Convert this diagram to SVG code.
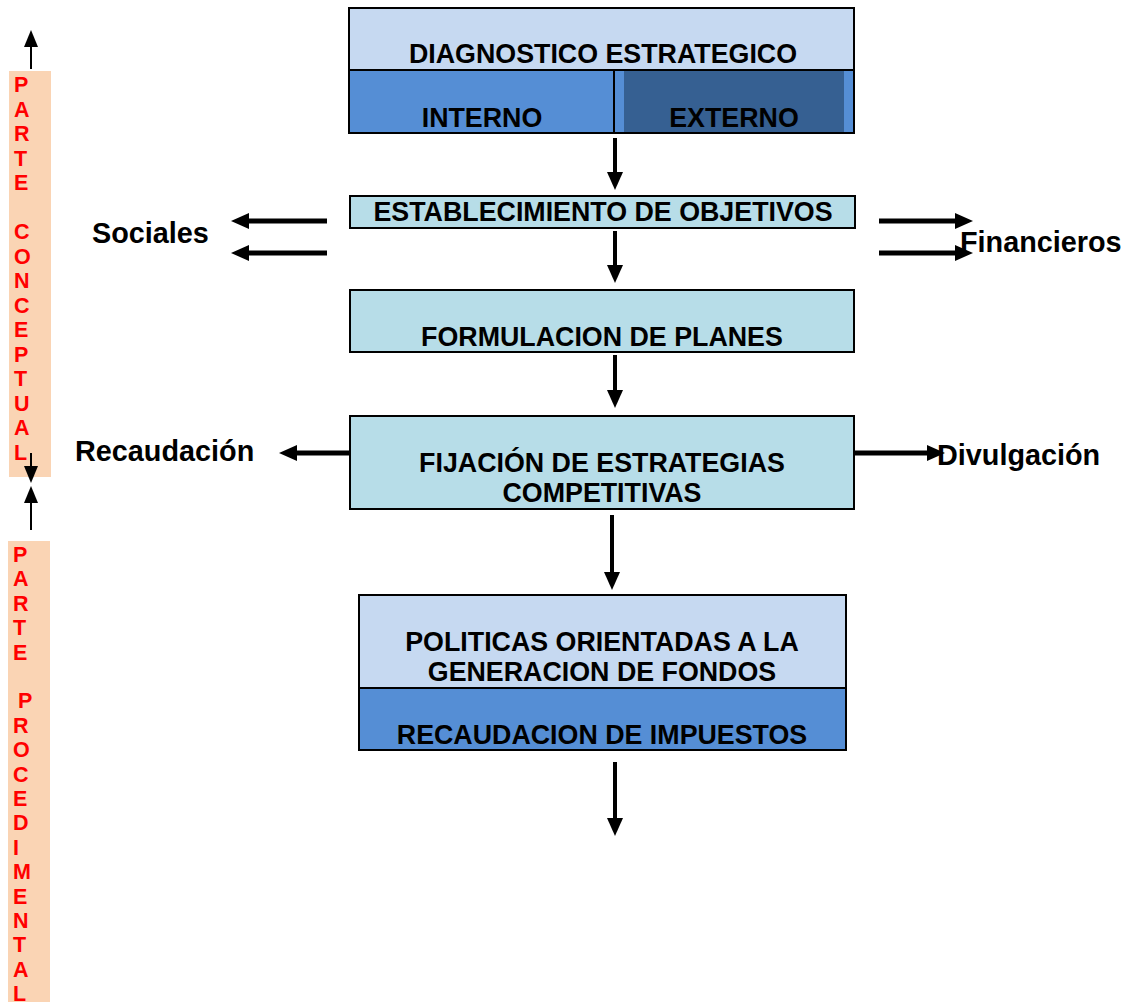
<svg xmlns="http://www.w3.org/2000/svg" width="1136" height="1002" viewBox="0 0 1136 1002">
<style>
.t{font-family:"Liberation Sans",Arial,sans-serif;font-weight:bold;fill:#000}
.m{font-size:26.8px;text-anchor:middle}
.s{font-size:28.8px}
.v{font-family:"Liberation Sans",Arial,sans-serif;font-weight:bold;font-size:21.5px;fill:#FF0000}
.bx{stroke:#000;stroke-width:2}
.a4{stroke:#000;stroke-width:4;fill:none}
.a5{stroke:#000;stroke-width:5;fill:none}
.a2{stroke:#000;stroke-width:2;fill:none}
</style>
<defs>
<marker id="ah" viewBox="0 0 18 16" refX="0" refY="8" markerWidth="18" markerHeight="16" markerUnits="userSpaceOnUse" orient="auto"><path d="M0,0L18,8L0,16z" fill="#000"/></marker>
<marker id="as" viewBox="0 0 17 14" refX="0" refY="7" markerWidth="17" markerHeight="14" markerUnits="userSpaceOnUse" orient="auto"><path d="M0,0L17,7L0,14z" fill="#000"/></marker>
</defs>
<rect width="1136" height="1002" fill="#fff"/>

<g id="col-conceptual">
<rect x="9" y="71" width="42" height="406" fill="#FAD4B4"/>
<text class="v"><tspan x="14" y="92">P</tspan><tspan x="14" y="116.5">A</tspan><tspan x="14" y="141">R</tspan><tspan x="14" y="165.5">T</tspan><tspan x="14" y="190">E</tspan><tspan x="14" y="239">C</tspan><tspan x="14" y="263.5">O</tspan><tspan x="14" y="288">N</tspan><tspan x="14" y="312.5">C</tspan><tspan x="14" y="337">E</tspan><tspan x="14" y="361.5">P</tspan><tspan x="14" y="386">T</tspan><tspan x="14" y="410.5">U</tspan><tspan x="14" y="435">A</tspan><tspan x="14" y="459.5">L</tspan></text>
</g>

<g id="col-procedimental">
<rect x="8" y="541" width="42" height="461" fill="#FAD4B4"/>
<text class="v"><tspan x="13" y="562">P</tspan><tspan x="13" y="586.4">A</tspan><tspan x="13" y="610.8">R</tspan><tspan x="13" y="635.2">T</tspan><tspan x="13" y="659.6">E</tspan><tspan x="18" y="708.4">P</tspan><tspan x="13" y="732.8">R</tspan><tspan x="13" y="757.2">O</tspan><tspan x="13" y="781.6">C</tspan><tspan x="13" y="806">E</tspan><tspan x="13" y="830.4">D</tspan><tspan x="13" y="854.8">I</tspan><tspan x="13" y="879.2">M</tspan><tspan x="13" y="903.6">E</tspan><tspan x="13" y="928">N</tspan><tspan x="13" y="952.4">T</tspan><tspan x="13" y="976.8">A</tspan><tspan x="13" y="1000.5">L</tspan></text>
</g>

<g id="diagnostico">
<rect class="bx" x="349" y="8" width="505" height="62" fill="#C6D9F1"/>
<rect class="bx" x="349" y="70" width="505" height="63" fill="#558ED5"/>
<rect x="624" y="71" width="220" height="61" fill="#366092"/>
<line x1="614" y1="70" x2="614" y2="133" stroke="#000" stroke-width="2"/>
<text class="t m" x="603" y="63">DIAGNOSTICO ESTRATEGICO</text>
<text class="t m" x="482" y="127">INTERNO</text>
<text class="t m" x="734" y="127">EXTERNO</text>
</g>

<g id="objetivos">
<rect class="bx" x="350" y="196" width="505" height="32" fill="#B7DDE8"/>
<text class="t m" x="603" y="221">ESTABLECIMIENTO DE OBJETIVOS</text>
</g>

<g id="planes">
<rect class="bx" x="350" y="290" width="504" height="62" fill="#B7DDE8"/>
<text class="t m" x="602" y="346">FORMULACION DE PLANES</text>
</g>

<g id="estrategias">
<rect class="bx" x="350" y="416" width="504" height="93" fill="#B7DDE8"/>
<text class="t m" x="602" y="472">FIJACIÓN DE ESTRATEGIAS</text>
<text class="t m" x="602" y="502">COMPETITIVAS</text>
</g>

<g id="politicas">
<rect class="bx" x="359" y="595" width="487" height="93" fill="#C6D9F1"/>
<rect class="bx" x="359" y="688" width="487" height="62" fill="#558ED5"/>
<text class="t m" x="602" y="651">POLITICAS ORIENTADAS A LA</text>
<text class="t m" x="602" y="681">GENERACION DE FONDOS</text>
<text class="t m" x="602" y="744">RECAUDACION DE IMPUESTOS</text>
</g>

<g id="labels">
<text class="t s" x="92" y="243">Sociales</text>
<text class="t s" x="75" y="461">Recaudación</text>
</g>

<g id="connectors">
<line class="a4" x1="615" y1="138" x2="615" y2="172" marker-end="url(#ah)"/>
<line class="a4" x1="615" y1="231" x2="615" y2="265" marker-end="url(#ah)"/>
<line class="a4" x1="615" y1="355" x2="615" y2="390" marker-end="url(#ah)"/>
<line class="a4" x1="612" y1="515" x2="612" y2="572" marker-end="url(#ah)"/>
<line class="a4" x1="615" y1="762" x2="615" y2="818" marker-end="url(#ah)"/>
<line class="a5" x1="327" y1="221" x2="249" y2="221" marker-end="url(#ah)"/>
<line class="a5" x1="327" y1="253" x2="249" y2="253" marker-end="url(#ah)"/>
<line class="a5" x1="879" y1="221" x2="955" y2="221" marker-end="url(#ah)"/>
<line class="a5" x1="879" y1="253" x2="955" y2="253" marker-end="url(#ah)"/>
<line class="a5" x1="350" y1="453" x2="297" y2="453" marker-end="url(#ah)"/>
<line class="a5" x1="855" y1="453" x2="927" y2="453" marker-end="url(#ah)"/>
<line class="a2" x1="31" y1="69" x2="31" y2="47" marker-end="url(#as)"/>
<line class="a2" x1="31" y1="453" x2="31" y2="466" marker-end="url(#as)"/>
<line class="a2" x1="31" y1="530" x2="31" y2="503" marker-end="url(#as)"/>
</g>

<g id="labels-right">
<text class="t s" x="960" y="252">Financieros</text>
<text class="t s" x="937" y="465">Divulgación</text>
</g>
</svg>
